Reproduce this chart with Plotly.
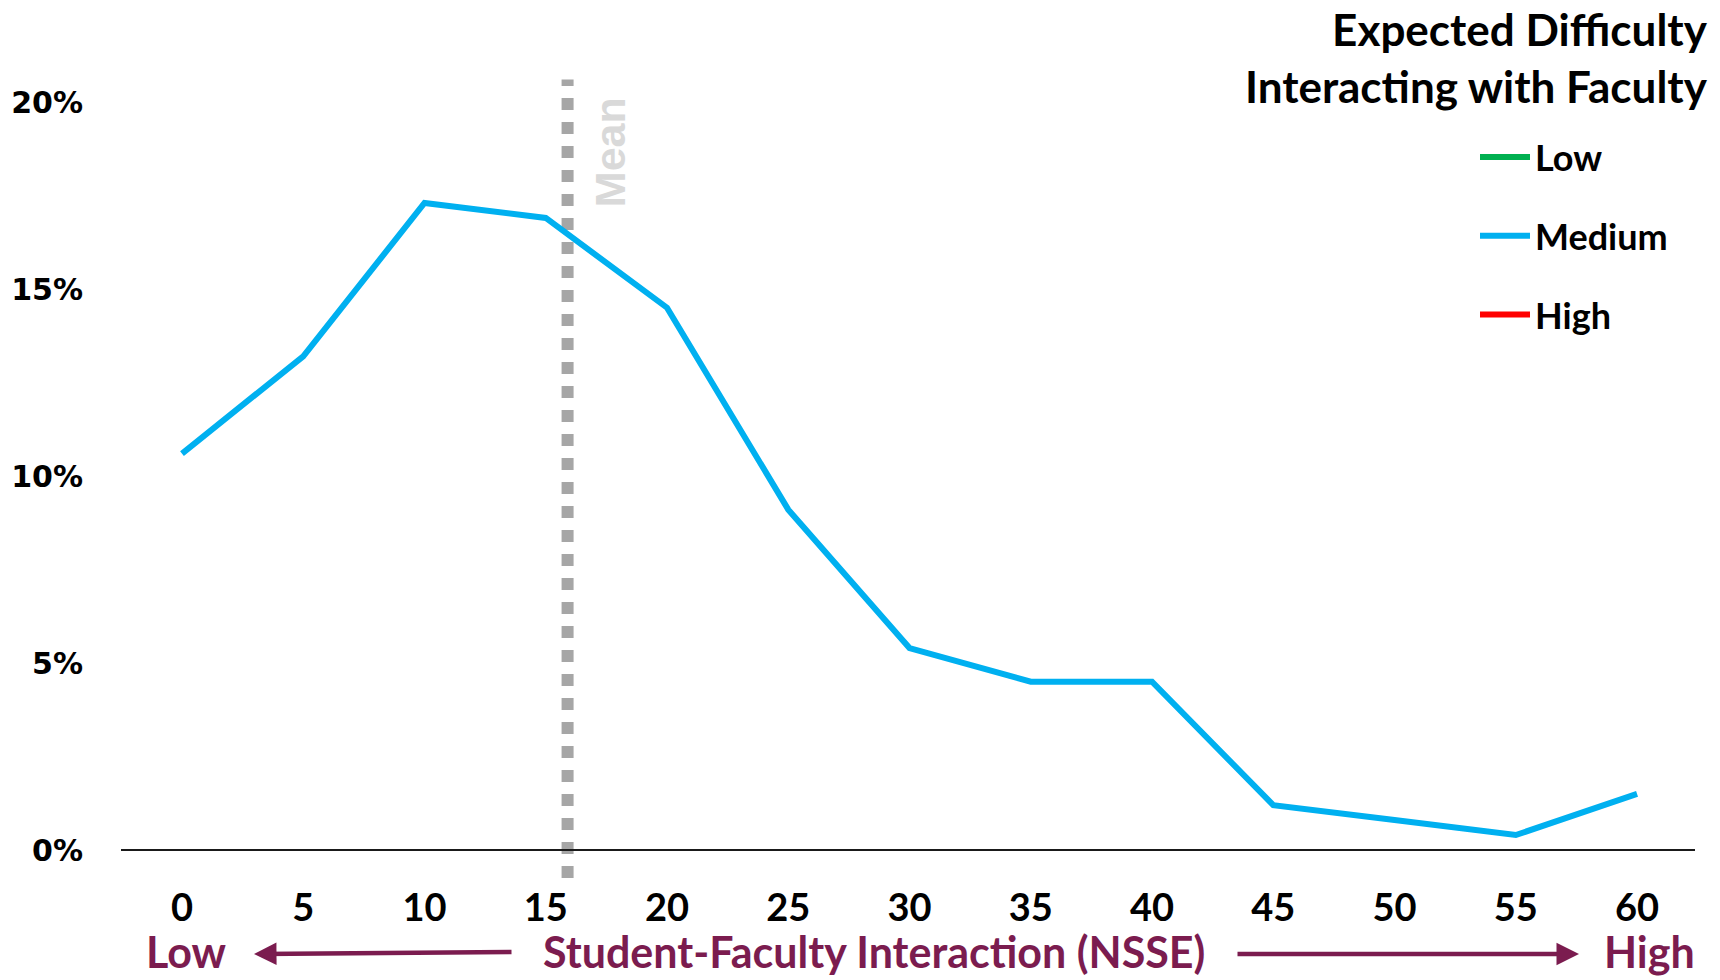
import plotly.graph_objects as go

# NSSE student-faculty interaction score (x) and share of students (%) for the
# "Medium" expected-difficulty group
scores = [0, 5, 10, 15, 20, 25, 30, 35, 40, 45, 50, 55, 60]
medium_pct = [10.6, 13.2, 17.3, 16.9, 14.5, 9.1, 5.4, 4.5, 4.5, 1.2, 0.8, 0.4, 1.5]

group_names = ["Low", "Medium", "High"]
group_colors = ["#00B050", "#00B0F0", "#FF0000"]

mean_score = 15.9

y_ticks = [0, 5, 10, 15, 20]
y_tick_text = ["0%", "5%", "10%", "15%", "20%"]
x_ticks = scores

W, H = 1720, 980
ML, MR, MT, MB = 121, 25, 60, 100
PW, PH = W - ML - MR, H - MT - MB

LABEL_FONT = "Lato"
MAROON = "#7B1C4F"


def px_x(p):
    return (p - ML) / PW


def px_y(p):
    return (H - MB - p) / PH


fig = go.Figure()

for name, color in zip(group_names, group_colors):
    if name == "Medium":
        xs, ys = scores, medium_pct
    else:
        xs, ys = [None], [None]
    fig.add_trace(go.Scatter(
        x=xs, y=ys, mode="lines", name=name, legendgroup=name,
        line=dict(color=color, width=6),
    ))

# Dotted vertical marker at the mean score
fig.add_shape(
    type="line", xref="x", yref="y",
    x0=mean_score, x1=mean_score, y0=-0.75, y1=20.6,
    line=dict(color="#A6A6A6", width=12, dash="12px,12px"),
    layer="below",
)
fig.add_annotation(
    x=17.65, y=18.66, xref="x", yref="y", text="Mean", textangle=-90,
    showarrow=False,
    font=dict(family="Liberation Sans", size=43, color="#D9D9D9", weight="bold"),
)

# Legend heading
fig.add_annotation(
    x=px_x(1710), y=px_y(57), xref="paper", yref="paper",
    text="Expected Difficulty<br>Interacting with Faculty",
    xanchor="right", yanchor="middle", align="right", showarrow=False,
    font=dict(family=LABEL_FONT, size=44, color="black", weight="bold"),
)

# Axis caption with Low/High direction arrows
caption_font = dict(family=LABEL_FONT, size=43, color=MAROON, weight="bold")
fig.add_annotation(
    x=px_x(874), y=px_y(951), xref="paper", yref="paper",
    xanchor="center", yanchor="middle",
    text="Student-Faculty Interaction (NSSE)", showarrow=False,
    font=caption_font,
)
fig.add_annotation(
    x=px_x(186), y=px_y(951), xref="paper", yref="paper",
    xanchor="center", yanchor="middle",
    text="Low", showarrow=False, font=caption_font,
)
fig.add_annotation(
    x=px_x(1649), y=px_y(951), xref="paper", yref="paper",
    xanchor="center", yanchor="middle",
    text="High", showarrow=False, font=caption_font,
)
fig.add_annotation(
    x=px_x(254), y=px_y(954), xref="paper", yref="paper",
    ax=259, ay=-2, axref="pixel", ayref="pixel",
    text="", showarrow=True, arrowhead=2, arrowsize=1.0, arrowwidth=4.5,
    arrowcolor=MAROON,
)
fig.add_annotation(
    x=px_x(1579), y=px_y(954), xref="paper", yref="paper",
    ax=-343, ay=0, axref="pixel", ayref="pixel",
    text="", showarrow=True, arrowhead=2, arrowsize=1.0, arrowwidth=4.5,
    arrowcolor=MAROON,
)

fig.update_layout(
    width=W, height=H,
    margin=dict(l=ML, r=MR, t=MT, b=MB),
    paper_bgcolor="white", plot_bgcolor="white",
    showlegend=True,
    legend=dict(
        x=px_x(1475), y=px_y(127), xanchor="left", yanchor="top",
        font=dict(family=LABEL_FONT, size=36, color="black", weight="bold"),
        tracegroupgap=29, bgcolor="rgba(0,0,0,0)", itemwidth=50,
    ),
    xaxis=dict(
        range=[-2.515, 62.39], tickvals=x_ticks, showgrid=False,
        zeroline=False, showline=False, ticks="",
        tickfont=dict(family=LABEL_FONT, size=38, color="black", weight="bold"),
        ticklabelstandoff=2,
    ),
    yaxis=dict(
        range=[-0.802, 21.123], tickvals=y_ticks, ticktext=y_tick_text,
        showgrid=False, zeroline=True, zerolinecolor="#1a1a1a",
        zerolinewidth=1.5, showline=False, ticks="",
        tickfont=dict(family="DejaVu Sans", size=30, color="black", weight="bold"),
        ticklabelstandoff=37,
    ),
)

fig.write_html("out.html")
